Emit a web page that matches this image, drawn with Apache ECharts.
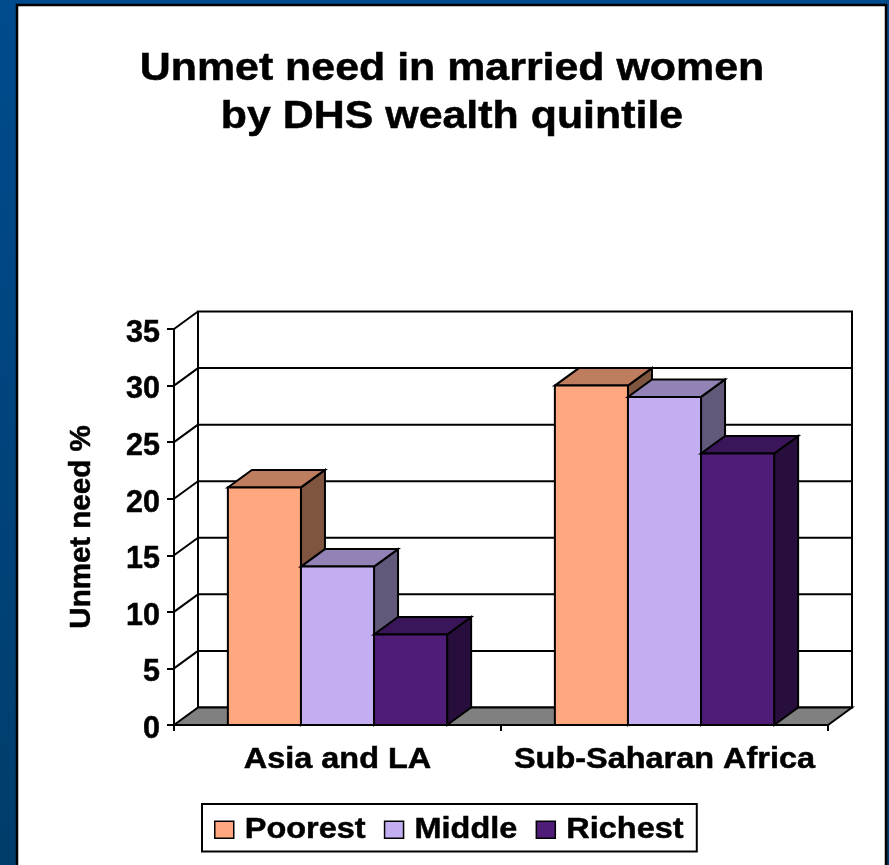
<!DOCTYPE html>
<html><head><meta charset="utf-8">
<style>html,body{margin:0;padding:0;background:#fff}#c{width:889px;height:865px}</style>
<script src="https://cdn.jsdelivr.net/npm/echarts@6/dist/echarts.min.js"></script>
</head><body><div id="c"></div>
<script>
var categories = ['Asia and LA', 'Sub-Saharan Africa'];
var poorest = [21, 30];
var middle = [14, 29];
var richest = [8, 24];
var yTicks = [0, 5, 10, 15, 20, 25, 30, 35];
var seriesNames = ['Poorest', 'Middle', 'Richest'];
var faceColors = ['#FFA87F', '#C3AEF2', '#4F1C78'];
var topColors = ['#BD7D5E', '#9282B5', '#3A1559'];
var sideColors = ['#7F5540', '#625879', '#270E3C'];

var DX = 24, DY = -17.5, FONT = '"Liberation Sans", Arial, sans-serif';
var HEAVY = 0.5;

// The reference picture is a slide stretched horizontally: widen horizontal text runs the same way.
var TEXT_STRETCH = 1.1;
(function () {
  var P = CanvasRenderingContext2D.prototype, fill = P.fillText, stroke = P.strokeText, measure = P.measureText;
  function wide(draw) {
    return function (s, x, y) {
      var rotated = this.getTransform().b !== 0;
      this.save();
      this.translate(x, y);
      if (!rotated) this.scale(TEXT_STRETCH, 1);
      draw.call(this, s, 0, 0);
      this.restore();
    };
  }
  P.fillText = wide(fill);
  P.strokeText = wide(stroke);
  P.measureText = function (s) {
    var m = measure.call(this, s);
    return { width: m.width * TEXT_STRETCH,
      actualBoundingBoxAscent: m.actualBoundingBoxAscent, actualBoundingBoxDescent: m.actualBoundingBoxDescent,
      actualBoundingBoxLeft: m.actualBoundingBoxLeft, actualBoundingBoxRight: m.actualBoundingBoxRight,
      fontBoundingBoxAscent: m.fontBoundingBoxAscent, fontBoundingBoxDescent: m.fontBoundingBoxDescent };
  };
})();

var chart = echarts.init(document.getElementById('c'));

function poly(pts, fill) {
  return { type: 'polygon', shape: { points: pts },
    style: { fill: fill, stroke: '#000', lineWidth: 2, lineJoin: 'miter' } };
}
function line(x1, y1, x2, y2, w) {
  return { type: 'line', shape: { x1: x1, y1: y1, x2: x2, y2: y2 },
    style: { stroke: '#000', lineWidth: w || 2 } };
}
function renderWalls(params, api) {
  if (params.dataIndex !== 0) return null;
  var c = params.coordSys, L = c.x, R = c.x + c.width, B = c.y + c.height;
  var kids = [];
  kids.push({ type: 'rect', shape: { x: L + DX, y: c.y + DY, width: c.width, height: c.height },
    style: { fill: '#fff', stroke: '#000', lineWidth: 2 } });
  yTicks.forEach(function (t) {
    var y = api.coord([0, t])[1];
    if (t > 0) kids.push(line(L, y, L + DX, y + DY));
    if (t > 0 && t < yTicks[yTicks.length - 1]) kids.push(line(L + DX, y + DY, R + DX, y + DY));
  });
  kids.push(poly([[L, B], [R, B], [R + DX, B + DY], [L + DX, B + DY]], '#808080'));
  return { type: 'group', children: kids };
}
function renderBars(k) {
  return function (params, api) {
    var cat = api.value(0), v = api.value(1);
    var band = api.size([1, 0])[0], w = band * 0.2235;
    var base = api.coord([cat, 0]), top = api.coord([cat, v]);
    var x0 = base[0] + (k - 1.5) * w, x1 = x0 + w, yb = base[1], yt = top[1];
    return { type: 'group', children: [
      poly([[x1, yb], [x1 + DX, yb + DY], [x1 + DX, yt + DY], [x1, yt]], sideColors[k]),
      poly([[x0, yt], [x1, yt], [x1 + DX, yt + DY], [x0 + DX, yt + DY]], topColors[k]),
      poly([[x0, yb], [x1, yb], [x1, yt], [x0, yt]], faceColors[k])
    ] };
  };
}
function rows(arr) { return arr.map(function (v, i) { return [i, v]; }); }
var dataBySeries = [poorest, middle, richest];

var series = [{ type: 'custom', name: 'walls', silent: true, z: 1, renderItem: renderWalls,
  data: rows(poorest), encode: { x: 0, y: 1 } }];
seriesNames.forEach(function (n, k) {
  series.push({ type: 'custom', name: n, z: 2 + k, renderItem: renderBars(k),
    itemStyle: { color: faceColors[k] }, data: rows(dataBySeries[k]), encode: { x: 0, y: 1 } });
});

chart.setOption({
  animation: false,
  backgroundColor: { type: 'linear', x: 0, y: 0, x2: 0, y2: 1,
    colorStops: [{ offset: 0, color: '#004B8E' }, { offset: 1, color: '#003D6B' }] },
  graphic: [
    { type: 'rect', z: -10, shape: { x: 17, y: 5, width: 869, height: 870 },
      style: { fill: '#fff', stroke: '#000', lineWidth: 2.5 } },
    { type: 'text', z: 100, x: 452, y: 93.5, style: { text: 'Unmet need in married women\nby DHS wealth quintile',
      fill: '#000', stroke: '#000', lineWidth: HEAVY, font: 'bold 39px ' + FONT, align: 'center', verticalAlign: 'middle', lineHeight: 48 } }
  ],
  grid: { left: 174, right: 61, top: 329, bottom: 140 },
  legend: { data: seriesNames, left: 202, top: 804, orient: 'horizontal', icon: 'rect',
    itemWidth: 19, itemHeight: 17, itemGap: 18, padding: [9, 13, 5, 12],
    backgroundColor: '#fff', borderColor: '#000', borderWidth: 2,
    itemStyle: { borderColor: '#000', borderWidth: 1.5 },
    textStyle: { color: '#000', fontFamily: FONT, fontWeight: 'bold', fontSize: 29.5, padding: [5, 0, 0, 6], textBorderColor: '#000', textBorderWidth: HEAVY } },
  xAxis: { type: 'category', data: categories,
    axisLine: { show: true, lineStyle: { color: '#000', width: 2 } },
    axisTick: { show: true, interval: 0, length: 6, lineStyle: { color: '#000', width: 2 } },
    axisLabel: { interval: 0, hideOverlap: false, color: '#000', fontFamily: FONT, fontWeight: 'bold', fontSize: 29.5, margin: 18, textBorderColor: '#000', textBorderWidth: HEAVY },
    splitLine: { show: false } },
  yAxis: { type: 'value', min: 0, max: 35, interval: 5,
    name: 'Unmet need %', nameLocation: 'middle', nameGap: 76, nameRotate: 90,
    nameTextStyle: { color: '#000', fontFamily: FONT, fontWeight: 'bold', fontSize: 29.5, textBorderColor: '#000', textBorderWidth: HEAVY },
    axisLine: { show: true, lineStyle: { color: '#000', width: 2 } },
    axisTick: { show: true, length: 7, lineStyle: { color: '#000', width: 2 } },
    axisLabel: { color: '#000', fontFamily: FONT, fontWeight: 'bold', fontSize: 30.5, margin: 14, verticalAlign: 'top', lineHeight: 9, textBorderColor: '#000', textBorderWidth: HEAVY },
    splitLine: { show: false } },
  series: series
});
</script></body></html>
